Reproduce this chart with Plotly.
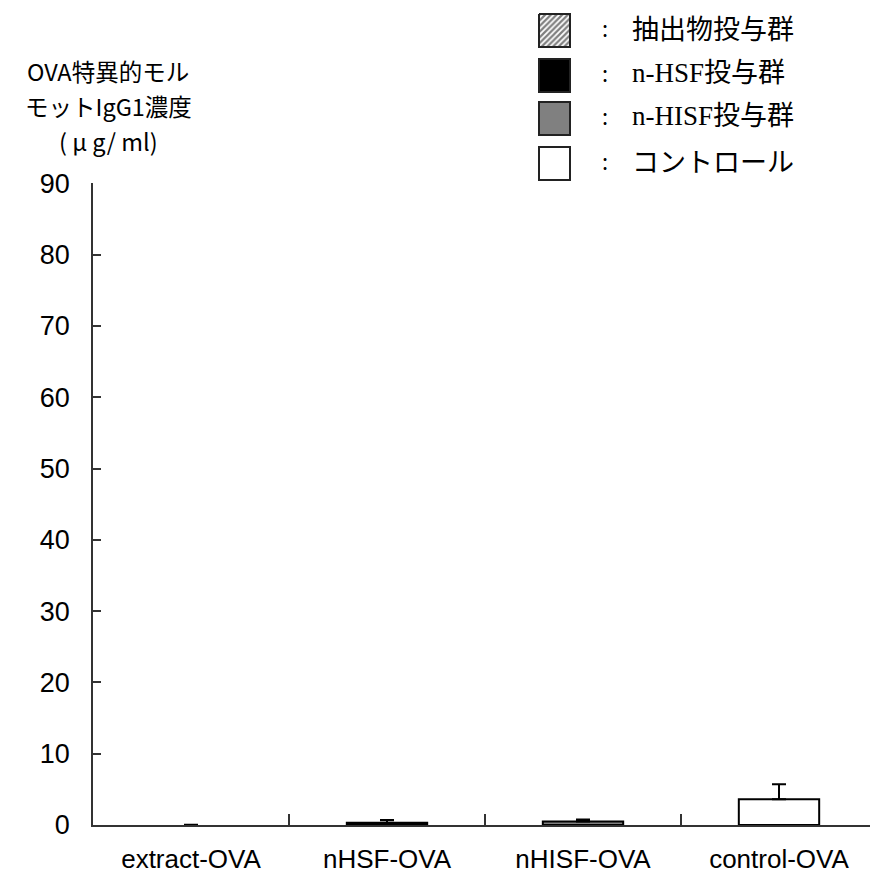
import plotly.graph_objects as go

# Data
categories = ["extract-OVA", "nHSF-OVA", "nHISF-OVA", "control-OVA"]
igg1_mean = [0.0, 0.3, 0.5, 3.6]
igg1_sd = [0.05, 0.4, 0.27, 2.1]
y_ticks = [0, 10, 20, 30, 40, 50, 60, 70, 80, 90]

legend_labels = ["抽出物投与群", "n-HSF投与群", "n-HISF投与群", "コントロール"]

W, H = 870, 886
SANS = "Liberation Sans, Arial, sans-serif"
CJK = "Noto Sans CJK JP, sans-serif"
SERIF_CJK = "Liberation Serif, Noto Sans CJK JP, serif"

fills = ["white", "black", "#808080", "white"]
hatch = dict(shape="/", fgcolor="black", bgcolor="white", size=4, solidity=0.55)
patterns = [hatch, dict(shape=""), dict(shape=""), dict(shape="")]

fig = go.Figure()

for i, cat in enumerate(categories):
    fig.add_trace(go.Bar(
        x=[cat], y=[igg1_mean[i]],
        marker=dict(color=fills[i], pattern=patterns[i],
                    line=dict(color="black", width=2 if igg1_mean[i] > 0 else 0)),
        error_y=dict(type="data", symmetric=False, array=[igg1_sd[i]],
                     arrayminus=[0], width=7, thickness=2, color="black"),
        width=0.41, showlegend=False, hoverinfo="skip",
    ))

# Legend swatches, drawn on a pixel-space helper axis pair
sw_cy = [30.5, 75.5, 118.5, 163.5]
sw_x0, sw_x1 = 539, 570
sw_h = 33
for i in range(4):
    y0, y1 = sw_cy[i] - sw_h / 2, sw_cy[i] + sw_h / 2
    if i == 0:
        fig.add_trace(go.Scatter(
            x=[sw_x0, sw_x1, sw_x1, sw_x0, sw_x0], y=[y0, y0, y1, y1, y0],
            xaxis="x2", yaxis="y2", mode="lines", fill="toself",
            fillcolor="white", fillpattern=hatch,
            line=dict(color="#222", width=2), showlegend=False, hoverinfo="skip",
        ))
    else:
        fig.add_shape(type="rect", xref="x2", yref="y2",
                      x0=sw_x0, x1=sw_x1, y0=y0, y1=y1,
                      fillcolor=fills[i], line=dict(color="#222", width=2))
    fig.add_annotation(xref="x2", yref="y2", x=605, y=sw_cy[i] - 4,
                       text=":", showarrow=False,
                       font=dict(family=CJK, size=22, color="black"))
    fam = SERIF_CJK if i in (1, 2) else CJK
    fig.add_annotation(xref="x2", yref="y2", x=630, y=sw_cy[i] - 3,
                       text=legend_labels[i], showarrow=False, xanchor="left",
                       font=dict(family=fam, size=27, color="black"))

# Y-axis title lines
title_lines = ["OVA特異的モル", "モットIgG1濃度", "( μ g/ ml)"]
title_y = [71, 106, 141]
for t, yy in zip(title_lines, title_y):
    fig.add_annotation(xref="x2", yref="y2", x=108, y=yy, text=t,
                       showarrow=False,
                       font=dict(family=CJK, size=23.5, color="black"))

axis_color = "#333"
fig.update_layout(
    width=W, height=H,
    margin=dict(l=0, r=0, t=0, b=0, pad=0, autoexpand=False),
    paper_bgcolor="white", plot_bgcolor="rgba(0,0,0,0)",
    barmode="overlay",
    xaxis=dict(
        domain=[93 / W, 1.0], type="category", automargin=False,
        categoryorder="array", categoryarray=categories,
        range=[-0.5, -0.5 + 777 / 196],
        showline=True, linecolor=axis_color, linewidth=1.5,
        ticks="inside", tickson="boundaries", ticklen=11,
        tickcolor=axis_color, tickwidth=1.5,
        showgrid=False, zeroline=False,
        tickfont=dict(family=SANS, size=26, color="black"),
        ticklabelstandoff=10,
    ),
    yaxis=dict(
        domain=[(H - 825) / H, (H - 183.3) / H], automargin=False,
        range=[0, 90], tickvals=y_ticks,
        showline=True, linecolor=axis_color, linewidth=1.5,
        ticks="inside", ticklen=8, tickcolor=axis_color, tickwidth=1.5,
        showgrid=False, zeroline=False,
        tickfont=dict(family=SANS, size=27, color="black"),
        ticklabelstandoff=16,
    ),
    xaxis2=dict(domain=[0, 1], range=[0, W], anchor="y2", visible=False,
                fixedrange=True, automargin=False),
    yaxis2=dict(domain=[0, 1], range=[H, 0], anchor="x2", visible=False,
                fixedrange=True, automargin=False),
)

fig.write_html("out.html")
